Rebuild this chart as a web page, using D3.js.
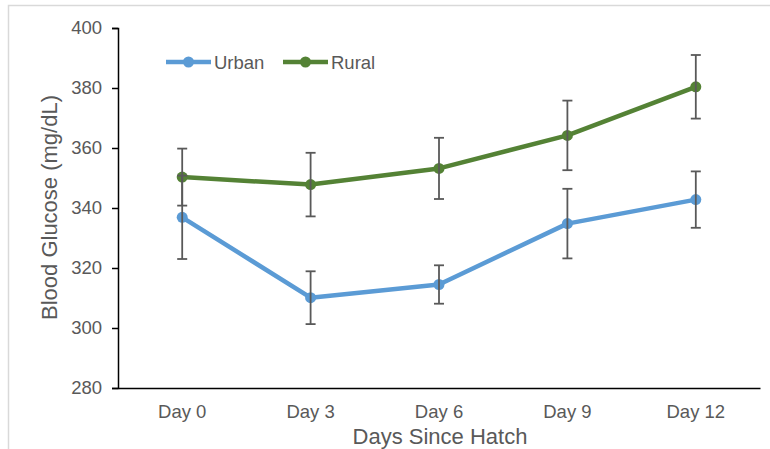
<!DOCTYPE html>
<html>
<head>
<meta charset="utf-8">
<script src="https://cdn.jsdelivr.net/npm/d3@7"></script>
<style>
  body { margin: 0; background: #fff; }
  text { font-family: "Liberation Sans", Arial, sans-serif; fill: #595959; }
</style>
</head>
<body>
<svg id="chart" width="770" height="449"></svg>
<script>
const categories = ["Day 0", "Day 3", "Day 6", "Day 9", "Day 12"];
const urbanValues = [336.9, 310.1, 314.5, 334.8, 342.8];
const urbanErrors = [13.9, 8.8, 6.4, 11.6, 9.4];
const ruralValues = [350.3, 347.8, 353.2, 364.2, 380.4];
const ruralErrors = [9.5, 10.6, 10.2, 11.6, 10.6];
const yTicks = [280, 300, 320, 340, 360, 380, 400];
const seriesNames = ["Urban", "Rural"];
const seriesColors = ["#5B9BD5", "#548235"];

const svg = d3.select("#chart");

// outer chart frame
svg.append("rect").attr("x", 8.5).attr("y", 5.5).attr("width", 800).attr("height", 500)
  .attr("fill", "none").attr("stroke", "#d9d9d9").attr("stroke-width", 1.5);

const x = d3.scaleBand().domain(categories).range([118, 760]);
const y = d3.scaleLinear().domain([280, 400]).range([388, 28]);

// y axis
const yAxis = svg.append("g").attr("transform", "translate(118,0)")
  .call(d3.axisLeft(y).tickValues(yTicks).tickSize(6).tickPadding(10));
yAxis.select(".domain").attr("stroke", "#000").attr("stroke-width", 1.5);
yAxis.selectAll(".tick line").attr("stroke", "#000").attr("stroke-width", 1.5);
yAxis.selectAll(".tick text").attr("fill", "#595959").style("font-size", "18.5px")
  .style("font-family", "Liberation Sans, Arial, sans-serif");

// x axis
const xAxis = svg.append("g").attr("transform", "translate(0,388)")
  .call(d3.axisBottom(x).tickSize(0).tickPadding(17).tickSizeOuter(0));
xAxis.select(".domain").attr("stroke", "#000").attr("stroke-width", 1.5);
xAxis.selectAll(".tick text").attr("fill", "#595959").style("font-size", "18.5px")
  .style("font-family", "Liberation Sans, Arial, sans-serif");

// axis titles
svg.append("text").attr("x", 440).attr("y", 444).attr("text-anchor", "middle")
  .style("font-size", "22px").text("Days Since Hatch");
svg.append("text").attr("transform", "translate(57,207.5) rotate(-90)").attr("text-anchor", "middle")
  .style("font-size", "22px").text("Blood Glucose (mg/dL)");

const cx = d => x(d) + x.bandwidth() / 2;
const series = [
  { name: seriesNames[0], values: urbanValues, errors: urbanErrors, color: seriesColors[0] },
  { name: seriesNames[1], values: ruralValues, errors: ruralErrors, color: seriesColors[1] }
];

const line = d3.line().x((d, i) => cx(categories[i])).y(d => y(d));

series.forEach(s => {
  const g = svg.append("g");
  g.append("path").datum(s.values).attr("d", line).attr("fill", "none")
    .attr("stroke", s.color).attr("stroke-width", 4.5).attr("stroke-linejoin", "round");
  g.selectAll("circle").data(s.values).join("circle")
    .attr("cx", (d, i) => cx(categories[i])).attr("cy", d => y(d)).attr("r", 5.5)
    .attr("fill", s.color);
});

// error bars
series.forEach(s => {
  const g = svg.append("g").attr("stroke", "#595959").attr("stroke-width", 1.8);
  s.values.forEach((v, i) => {
    const px = cx(categories[i]);
    const hi = y(v + s.errors[i]), lo = y(v - s.errors[i]);
    g.append("line").attr("x1", px).attr("x2", px).attr("y1", hi).attr("y2", lo);
    g.append("line").attr("x1", px - 5).attr("x2", px + 5).attr("y1", hi).attr("y2", hi);
    g.append("line").attr("x1", px - 5).attr("x2", px + 5).attr("y1", lo).attr("y2", lo);
  });
});

// legend
const legendX = [166, 283];
series.forEach((s, i) => {
  const g = svg.append("g").attr("transform", `translate(${legendX[i]},62)`);
  g.append("line").attr("x1", 0).attr("x2", 45).attr("y1", 0).attr("y2", 0)
    .attr("stroke", s.color).attr("stroke-width", 4.5);
  g.append("circle").attr("cx", 22.5).attr("cy", 0).attr("r", 5.5).attr("fill", s.color);
  g.append("text").attr("x", 48).attr("y", 6.5).style("font-size", "18.5px").text(s.name);
});
</script>
</body>
</html>
